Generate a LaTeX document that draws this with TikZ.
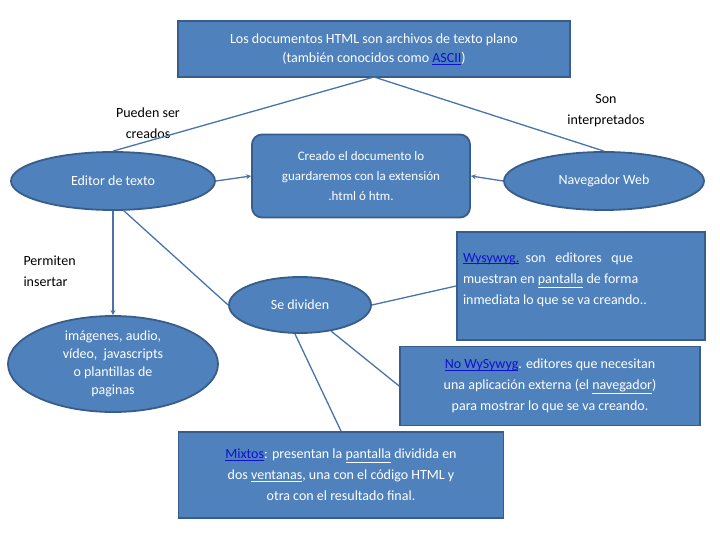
\documentclass[tikz,border=0pt]{standalone}
\usepackage{fontspec}
\setmainfont{Carlito}
\usetikzlibrary{shapes.geometric,arrows.meta}
\definecolor{fillb}{HTML}{4F81BD}
\definecolor{edgeb}{HTML}{385D8A}
\definecolor{lnk}{HTML}{1010D0}
\newcommand{\lk}[1]{\textcolor{lnk}{\underline{\smash{#1}}}}
\begin{document}
\begin{tikzpicture}[x=1pt,y=-1pt,
  box/.style={draw=edgeb,fill=fillb,line width=1.8pt,text=white,font=\fontsize{14}{19}\selectfont,align=center,inner sep=0pt},
  ell/.style={ellipse,draw=edgeb,fill=fillb,line width=1.8pt,text=white,font=\fontsize{14}{18}\selectfont,align=center,inner sep=0pt},
  lab/.style={font=\fontsize{14}{21}\selectfont,align=center},
  con/.style={draw=fillb!90!black,line width=1.3pt},
  arr/.style={con,-{Stealth[length=5pt,width=5pt]}}]
\useasboundingbox (0,0) rectangle (720,540);
\node[box,minimum width=392,minimum height=56] (top) at (374,49) {Los documentos HTML son archivos de texto plano\\(también conocidos como \lk{ASCII})};
\node[ell,minimum width=204,minimum height=58] (ed) at (113,181) {Editor de texto};
\node[box,rounded corners=10pt,minimum width=218,minimum height=83,font=\fontsize{13}{20}\selectfont] (cr) at (361,176) {Creado el documento lo\\guardaremos con la extensión\\.html ó htm.};
\node[ell,minimum width=200,minimum height=58] (nav) at (604,181) {Navegador Web};
\node[ell,minimum width=142,minimum height=56] (sd) at (300,305) {Se dividen};
\node[ell,minimum width=210,minimum height=96] (im) at (113,364) {imágenes, audio,\\vídeo,\ \ javascripts\\o plantillas de\\paginas};
\node[box,minimum width=248,minimum height=108,font=\fontsize{14}{21}\selectfont] (wy) at (581,286) {\parbox{236pt}{\raggedright\lk{Wysywyg.}\ \ son\ \ \ editores\ \ \ que\\muestran en \underline{pantalla} de forma\\inmediata lo que se va creando..}\\[12pt]};
\node[box,minimum width=300,minimum height=79,font=\fontsize{14}{21}\selectfont] (no) at (550,386) {\lk{No WySywyg}. editores que necesitan\\una aplicación externa (el \underline{navegador})\\para mostrar lo que se va creando.};
\node[box,minimum width=325,minimum height=86,font=\fontsize{14}{21}\selectfont] (mx) at (341,475) {\lk{Mixtos}: presentan la \underline{pantalla} dividida en\\dos \underline{ventanas}, una con el código HTML y\\otra con el resultado final.};
\node[lab] (l1) at (148,123) {Pueden ser\\creados};
\node[lab] (l2) at (606,111) {Son\\interpretados};
\node[lab,align=left,anchor=west] (l3) at (20,271) {Permiten\\insertar};
\coordinate (tb) at (374,77);
\draw[con] (tb) -- (ed.north);
\draw[con] (tb) -- (nav.north);
\draw[arr] (ed.east) -- (cr.west);
\draw[arr] (nav.west) -- (cr.east);
\draw[arr] (ed.south) -- (im.north);
\draw[con] (ed.-70) -- (sd.west);
\draw[con] (sd.east) -- (wy.west);
\draw[con] (sd.-40) -- (no.west);
\draw[con] (sd.-100) -- (mx.north);
\end{tikzpicture}
\end{document}
